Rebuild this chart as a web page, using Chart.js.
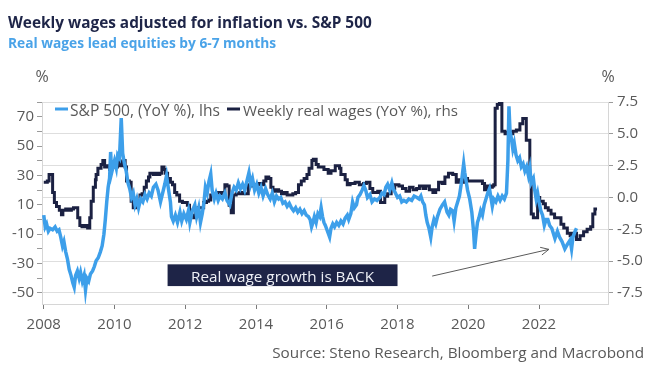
<!DOCTYPE html>
<html>
<head>
<meta charset="utf-8">
<script src="https://cdn.jsdelivr.net/npm/chart.js@4.4.1/dist/chart.umd.min.js"></script>
<style>
  html, body { margin: 0; padding: 0; background: #fff; }
  #wrap { width: 654px; height: 374px; position: relative; }
</style>
</head>
<body>
<div id="wrap"><canvas id="chart" width="654" height="374"></canvas></div>
<script>
// S&P 500 YoY % (lhs)
const spxYears = [
  2008.00, 2008.04, 2008.08, 2008.13, 2008.18, 2008.25, 2008.32, 2008.38, 2008.43, 2008.48,
  2008.53, 2008.57, 2008.62, 2008.67, 2008.72, 2008.77, 2008.82, 2008.86, 2008.90, 2008.95,
  2009.00, 2009.04, 2009.09, 2009.14, 2009.18, 2009.22, 2009.27, 2009.32, 2009.38, 2009.43,
  2009.48, 2009.54, 2009.60, 2009.65, 2009.70, 2009.74, 2009.78, 2009.82, 2009.86, 2009.89,
  2009.92, 2009.96, 2010.00, 2010.05, 2010.09, 2010.14, 2010.19, 2010.23, 2010.28, 2010.33,
  2010.38, 2010.43, 2010.48, 2010.53, 2010.58, 2010.63, 2010.68, 2010.74, 2010.80, 2010.86,
  2010.92, 2010.98, 2011.04, 2011.10, 2011.17, 2011.23, 2011.30, 2011.36, 2011.42, 2011.47,
  2011.53, 2011.58, 2011.61, 2011.66, 2011.72, 2011.78, 2011.85, 2011.90, 2011.96, 2012.03,
  2012.09, 2012.13, 2012.20, 2012.27, 2012.32, 2012.38, 2012.43, 2012.48, 2012.53, 2012.57,
  2012.62, 2012.67, 2012.72, 2012.76, 2012.82, 2012.87, 2012.93, 2012.98, 2013.05, 2013.12,
  2013.18, 2013.26, 2013.32, 2013.38, 2013.44, 2013.50, 2013.56, 2013.62, 2013.68, 2013.74,
  2013.80, 2013.85, 2013.90, 2013.96, 2014.02, 2014.08, 2014.14, 2014.20, 2014.27, 2014.33,
  2014.40, 2014.46, 2014.52, 2014.58, 2014.64, 2014.70, 2014.76, 2014.82, 2014.88, 2014.94,
  2015.00, 2015.06, 2015.12, 2015.18, 2015.24, 2015.30, 2015.36, 2015.42, 2015.48, 2015.53,
  2015.57, 2015.61, 2015.65, 2015.70, 2015.75, 2015.80, 2015.84, 2015.88, 2015.92, 2015.96,
  2016.02, 2016.08, 2016.12, 2016.17, 2016.22, 2016.28, 2016.34, 2016.40, 2016.46, 2016.52,
  2016.58, 2016.62, 2016.68, 2016.73, 2016.78, 2016.84, 2016.88, 2016.94, 2017.00, 2017.05,
  2017.10, 2017.15, 2017.22, 2017.28, 2017.35, 2017.42, 2017.50, 2017.56, 2017.62, 2017.67,
  2017.72, 2017.78, 2017.84, 2017.88, 2017.94, 2018.00, 2018.06, 2018.12, 2018.18, 2018.25,
  2018.32, 2018.40, 2018.47, 2018.55, 2018.61, 2018.66, 2018.71, 2018.76, 2018.80, 2018.84,
  2018.89, 2018.94, 2018.98, 2019.03, 2019.08, 2019.13, 2019.20, 2019.27, 2019.33, 2019.40,
  2019.45, 2019.50, 2019.56, 2019.60, 2019.65, 2019.70, 2019.75, 2019.80, 2019.84, 2019.87,
  2019.90, 2019.94, 2019.98, 2020.04, 2020.10, 2020.15, 2020.18, 2020.22, 2020.26, 2020.30,
  2020.35, 2020.40, 2020.45, 2020.50, 2020.55, 2020.60, 2020.64, 2020.68, 2020.72, 2020.78,
  2020.84, 2020.90, 2020.96, 2021.02, 2021.08, 2021.12, 2021.15, 2021.18, 2021.22, 2021.26,
  2021.30, 2021.35, 2021.40, 2021.45, 2021.50, 2021.55, 2021.60, 2021.65, 2021.70, 2021.74,
  2021.78, 2021.84, 2021.88, 2021.92, 2021.96, 2022.00, 2022.05, 2022.10, 2022.15, 2022.20,
  2022.25, 2022.30, 2022.36, 2022.45, 2022.52, 2022.58, 2022.65, 2022.73, 2022.80, 2022.88,
  2022.92, 2022.96, 2023.02, 2023.06
];
const spxValues = [
  3, -5, -3, -8, -6, -7, -5, -8, -7, -12,
  -18, -15, -22, -27, -34, -38, -43, -46, -38, -35,
  -40, -36, -42, -38, -48, -40, -42, -37, -35, -32,
  -28, -26, -22, -18, -10, 0, 12, 22, 28, 46,
  32, 36, 40, 35, 44, 42, 69, 45, 38, 33,
  25, 21, 15, 18, 10, 14, 8, 14, 12, 17,
  14, 18, 16, 22, 24, 20, 12, 18, 24, 30,
  20, 12, 2, -1, 3, -2, 5, -1, 4, 0,
  6, -2, 6, 10, 2, 8, -2, 4, 12, 22,
  18, 26, 31, 20, 14, 18, 13, 16, 14, 18,
  13, 10, 18, 22, 20, 25, 21, 24, 20, 26,
  32, 24, 28, 20, 24, 18, 22, 16, 21, 17,
  14, 18, 12, 16, 14, 15, 11, 12, 9, 11,
  8, 6, 8, 5, 7, 4, 6, 3, 2, 0,
  -5, -2, 2, -2, 4, 2, 8, 2, -2, -4,
  -8, -12, -6, -3, -5, -2, -4, -1, -3, 1,
  3, 0, 4, 12, 8, 10, 15, 17, 20, 23,
  20, 15, 17, 12, 14, 13, 15, 18, 17, 22,
  24, 20, 25, 21, 18, 15, 16, 12, 13, 12,
  14, 13, 16, 15, 14, 16, 12, 10, 3, -2,
  -6, -12, -5, 0, -3, 2, 7, 10, 12, 5,
  3, 7, 6, -1, 8, 12, 16, 24, 32, 38,
  32, 26, 20, 14, 5, -8, -20, -10, -2, 1,
  6, 3, 10, 14, 18, 21, 15, 9, 14, 12,
  16, 13, 16, 14, 18, 40, 77, 60, 55, 48,
  52, 44, 40, 42, 36, 38, 33, 36, 30, 35,
  25, 28, 20, 14, 18, 12, 6, 3, -4, 0,
  0, -4, -6, -13, -8, -12, -15, -20, -17, -14,
  -20, -12, -8, -6
];

// Weekly real wages YoY % (rhs), monthly steps
const wageYears = [
  2008.00, 2008.10, 2008.15, 2008.25, 2008.30, 2008.36, 2008.44, 2008.50, 2008.54, 2008.62,
  2008.70, 2008.78, 2008.84, 2008.96, 2009.02, 2009.08, 2009.16, 2009.24, 2009.30, 2009.34,
  2009.40, 2009.46, 2009.48, 2009.53, 2009.62, 2009.67, 2009.72, 2009.80, 2009.86, 2009.92,
  2010.00, 2010.08, 2010.16, 2010.24, 2010.30, 2010.34, 2010.42, 2010.47, 2010.53, 2010.60,
  2010.66, 2010.72, 2010.78, 2010.84, 2010.90, 2010.96, 2011.00, 2011.10, 2011.16, 2011.22,
  2011.28, 2011.34, 2011.40, 2011.44, 2011.50, 2011.58, 2011.64, 2011.70, 2011.76, 2011.84,
  2011.92, 2012.00, 2012.06, 2012.12, 2012.18, 2012.24, 2012.30, 2012.36, 2012.44, 2012.52,
  2012.60, 2012.66, 2012.72, 2012.80, 2012.90, 2013.00, 2013.08, 2013.12, 2013.18, 2013.24,
  2013.30, 2013.36, 2013.44, 2013.54, 2013.62, 2013.70, 2013.78, 2013.88, 2013.98, 2014.06,
  2014.14, 2014.22, 2014.28, 2014.36, 2014.42, 2014.48, 2014.56, 2014.64, 2014.72, 2014.80,
  2014.88, 2014.96, 2015.04, 2015.12, 2015.20, 2015.28, 2015.36, 2015.44, 2015.50, 2015.58,
  2015.62, 2015.70, 2015.76, 2015.84, 2015.92, 2016.04, 2016.12, 2016.24, 2016.36, 2016.40,
  2016.52, 2016.58, 2016.66, 2016.80, 2016.92, 2017.04, 2017.12, 2017.22, 2017.30, 2017.44,
  2017.52, 2017.64, 2017.72, 2017.82, 2017.92, 2018.04, 2018.14, 2018.24, 2018.34, 2018.44,
  2018.54, 2018.62, 2018.72, 2018.80, 2018.90, 2019.00, 2019.08, 2019.16, 2019.26, 2019.34,
  2019.44, 2019.56, 2019.66, 2019.74, 2019.84, 2019.92, 2019.98, 2020.10, 2020.20, 2020.30,
  2020.40, 2020.46, 2020.52, 2020.60, 2020.68, 2020.72, 2020.76, 2020.82, 2020.88, 2020.95,
  2021.04, 2021.12, 2021.20, 2021.26, 2021.36, 2021.46, 2021.54, 2021.64, 2021.74, 2021.78,
  2021.84, 2021.96, 2022.02, 2022.12, 2022.18, 2022.26, 2022.34, 2022.44, 2022.52, 2022.62,
  2022.70, 2022.80, 2022.88, 2022.96, 2023.06, 2023.16, 2023.26, 2023.36, 2023.46, 2023.52,
  2023.58, 2023.64
];
const wageValues = [
  1.2, 1.3, 1.8, 0.4, -0.4, -0.7, -1.0, -1.35, -1.0, -0.9,
  -1.0, -0.9, -0.8, -1.6, -2.2, -2.3, -2.2, -2.4, -1.6, -0.3,
  0.8, 1.4, 1.8, 2.3, 2.6, 2.9, 2.4, 2.5, 2.2, 2.6,
  2.4, 2.8, 2.5, 2.9, 2.4, 1.3, 1.2, -0.3, -0.8, -0.6,
  -0.3, 0.2, 0.3, 0.8, 1.3, 1.6, 1.9, 1.8, 1.9, 1.8,
  1.9, 2.4, 2.2, 1.9, 1.5, 1.2, 1.0, 0.4, 0.2, -0.3,
  -0.4, -0.4, -0.6, -1.0, -1.4, -1.6, -1.2, -0.8, -0.8, -0.4,
  -0.3, -0.2, 0.2, 0.3, 0.4, 0.3, 0.4, 1.0, 0.9, -0.6,
  -1.2, 0.2, 0.3, 0.4, 0.3, 0.3, 1.0, 0.9, 1.0, 1.1,
  1.0, 1.3, 1.6, 1.5, 0.8, 0.5, 0.6, 0.5, 0.3, 0.4,
  0.2, 0.2, 0.3, 0.4, 1.0, 1.3, 1.5, 1.8, 2.3, 2.9,
  3.0, 2.6, 2.4, 2.4, 2.2, 1.9, 2.1, 2.5, 2.3, 1.8,
  1.4, 1.0, 1.1, 1.2, 1.0, 1.1, 1.2, 0.7, 0.4, 0.5,
  -0.4, 0.1, 0.3, 0.7, 1.0, 0.9, 0.7, 0.5, 0.8, 0.6,
  0.7, 0.9, 0.7, 0.9, 0.6, 0.4, 0.6, 1.2, 1.1, 1.6,
  1.9, 1.8, 1.2, 1.4, 1.2, 1.5, 1.3, 1.3, 1.3, 1.3,
  1.1, 0.6, 0.9, 0.8, 0.9, 1.0, 7.0, 7.3, 7.5, 5.2,
  5.0, 5.1, 5.0, 5.2, 5.3, 5.8, 6.2, 4.5, 1.5, -1.3,
  -1.6, 0.0, -0.3, -0.5, -0.8, -1.0, -1.3, -1.6, -1.6, -2.1,
  -2.4, -2.8, -3.0, -2.8, -3.3, -3.0, -2.7, -2.5, -2.3, -1.3,
  -0.9, -0.9
];

const yearTicks = [2008, 2010, 2012, 2014, 2016, 2018, 2020, 2022];
const leftTicks = [-50, -40, -30, -20, -10, 0, 10, 20, 30, 40, 50, 60, 70, 80];
const leftLabels = [70, 50, 30, 10, -10, -30, -50];
const rightTicks = [-7.5, -5, -2.5, 0, 2.5, 5, 7.5];

const BLUE = '#3d9fea';
const NAVY = '#1b2142';
const GREY_TXT = '#595959';
const FONT = "'Open Sans', 'Noto Sans', sans-serif";

// misura il testo e restituisce la dimensione font che lo porta alla larghezza voluta
function fitSize(ctx, text, weight, width) {
  ctx.font = weight + ' 20px ' + FONT;
  return 20 * width / ctx.measureText(text).width;
}

function drawFitted(ctx, text, x, y, weight, width, color, align) {
  const size = fitSize(ctx, text, weight, width);
  ctx.font = weight + ' ' + size.toFixed(2) + 'px ' + FONT;
  ctx.fillStyle = color;
  ctx.textAlign = align || 'left';
  ctx.textBaseline = 'alphabetic';
  ctx.fillText(text, x, y);
}

const overlay = {
  id: 'overlay',
  afterDraw(chart) {
    const ctx = chart.ctx;
    const xs = chart.scales.x, yl = chart.scales.yL;
    const area = chart.chartArea;
    ctx.save();

    // titolo e sottotitolo
    drawFitted(ctx, 'Weekly wages adjusted for inflation vs. S&P 500', 8, 28, 'bold', 364, '#1e2548');
    drawFitted(ctx, 'Real wages lead equities by 6-7 months', 8, 48, 'bold', 268, '#4aa3e8');

    // unità sugli assi
    ctx.font = '16px ' + FONT;
    ctx.fillStyle = GREY_TXT;
    ctx.textAlign = 'center';
    ctx.fillText('%', area.left, 82);
    ctx.fillText('%', area.right, 82);

    // legenda dentro l'area del grafico
    const ly = 109;
    ctx.lineWidth = 3;
    ctx.strokeStyle = BLUE;
    ctx.beginPath(); ctx.moveTo(55, ly); ctx.lineTo(68, ly); ctx.stroke();
    drawFitted(ctx, chart.data.datasets[0].label, 70, 116, 'normal', 150, GREY_TXT);
    ctx.strokeStyle = NAVY;
    ctx.beginPath(); ctx.moveTo(227, ly); ctx.lineTo(240, ly); ctx.stroke();
    drawFitted(ctx, chart.data.datasets[1].label, 243, 116, 'normal', 215, GREY_TXT);

    // box annotazione
    const bx0 = xs.getPixelForValue(2011.5), bx1 = xs.getPixelForValue(2018.0);
    const by0 = yl.getPixelForValue(-30.5), by1 = yl.getPixelForValue(-45.3);
    ctx.fillStyle = '#1e2447';
    ctx.fillRect(bx0, by0, bx1 - bx0, by1 - by0);
    drawFitted(ctx, 'Real wage growth is BACK', (bx0 + bx1) / 2, by1 - 4.5, 'normal', 183, '#eef0f6', 'center');

    // freccia
    const ax0 = xs.getPixelForValue(2018.98), ay0 = yl.getPixelForValue(-38.5);
    const ax1 = xs.getPixelForValue(2022.28), ay1 = yl.getPixelForValue(-20.3);
    const ang = Math.atan2(ay1 - ay0, ax1 - ax0);
    ctx.strokeStyle = '#5a5a5a';
    ctx.lineWidth = 1;
    ctx.beginPath(); ctx.moveTo(ax0, ay0); ctx.lineTo(ax1, ay1); ctx.stroke();
    ctx.beginPath();
    ctx.moveTo(ax1 - 9 * Math.cos(ang - 0.45), ay1 - 9 * Math.sin(ang - 0.45));
    ctx.lineTo(ax1, ay1);
    ctx.lineTo(ax1 - 9 * Math.cos(ang + 0.45), ay1 - 9 * Math.sin(ang + 0.45));
    ctx.stroke();

    // fonte
    drawFitted(ctx, 'Source: Steno Research, Bloomberg and Macrobond', 644, 358, 'normal', 372, GREY_TXT, 'right');
    ctx.restore();
  }
};

const tickFont = { family: FONT, size: 15 };
const axisBorder = { display: true, color: '#d6d6d6', width: 1 };

new Chart(document.getElementById('chart').getContext('2d'), {
  type: 'line',
  data: {
    datasets: [
      {
        label: 'S&P 500, (YoY %), lhs',
        data: spxYears.map((x, i) => ({ x: x, y: spxValues[i] })),
        yAxisID: 'yL',
        borderColor: BLUE,
        borderWidth: 3.5,
        pointRadius: 0,
        tension: 0
      },
      {
        label: 'Weekly real wages (YoY %), rhs',
        data: wageYears.map((x, i) => ({ x: x, y: wageValues[i] })),
        yAxisID: 'yR',
        borderColor: NAVY,
        borderWidth: 3,
        pointRadius: 0,
        stepped: 'before'
      }
    ]
  },
  options: {
    responsive: false,
    animation: false,
    devicePixelRatio: 1,
    layout: { padding: { top: 102, left: 0, right: 0, bottom: 0 } },
    plugins: { legend: { display: false }, tooltip: { enabled: false } },
    scales: {
      x: {
        type: 'linear',
        min: 2007.95,
        max: 2023.95,
        afterBuildTicks: s => { s.ticks = yearTicks.map(v => ({ value: v })); },
        afterFit: s => { s.height = 70; },
        grid: { drawOnChartArea: false, tickLength: 5, tickColor: '#7a7a7a' },
        border: axisBorder,
        ticks: { callback: v => String(v), font: tickFont, color: GREY_TXT, padding: 7, maxRotation: 0, autoSkip: false }
      },
      yL: {
        position: 'left',
        min: -57.5,
        max: 80,
        afterBuildTicks: s => { s.ticks = leftTicks.map(v => ({ value: v })); },
        afterFit: s => { s.width = 42; },
        grid: { drawOnChartArea: false, tickLength: 5, tickColor: '#9a9a9a' },
        border: axisBorder,
        ticks: { callback: v => leftLabels.includes(v) ? String(v) : '', font: tickFont, color: GREY_TXT, padding: 3, autoSkip: false }
      },
      yR: {
        position: 'right',
        min: -8.365,
        max: 7.5,
        afterBuildTicks: s => { s.ticks = rightTicks.map(v => ({ value: v })); },
        afterFit: s => { s.width = 46; },
        grid: { color: '#dedede', tickLength: 5, tickColor: '#9a9a9a' },
        border: axisBorder,
        ticks: { callback: v => v.toFixed(1), font: tickFont, color: GREY_TXT, padding: 4, autoSkip: false }
      }
    }
  },
  plugins: [overlay]
});
</script>
</body>
</html>
